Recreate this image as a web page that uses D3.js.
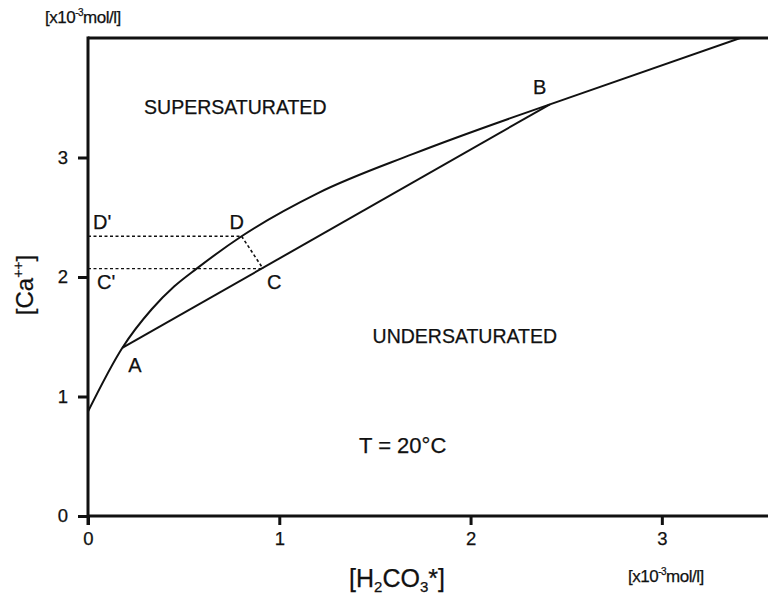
<!DOCTYPE html>
<html>
<head>
<meta charset="utf-8">
<script src="https://cdn.jsdelivr.net/npm/d3@7"></script>
<style>
  html, body { margin: 0; padding: 0; background: #fff; }
  svg { display: block; }
  text { font-family: "Liberation Sans", Arial, sans-serif; fill: #111; stroke: #111; stroke-width: 0.25; }
</style>
</head>
<body>
<svg id="chart" width="768" height="596"></svg>
<script>
// ---- data (x = [H2CO3*], y = [Ca++], both in 10^-3 mol/l) ----
const curveX = [0.0, 0.179, 0.333, 0.45, 0.568, 0.803, 1.2, 1.7, 2.415];
const curveY = [0.874, 1.406, 1.73, 1.92, 2.07, 2.341, 2.70, 3.03, 3.445];
const tailX = [2.415, 3.41];
const tailY = [3.445, 4.0];
const pointNames = ["A", "B", "C", "D"];
const pointX = [0.179, 2.415, 0.915, 0.803];
const pointY = [1.406, 3.445, 2.07, 2.341];
const xTicks = [0, 1, 2, 3];
const yTicks = [0, 1, 2, 3];

const svg = d3.select("#chart");
const mLeft = 88, mTop = 38, mRight = 768, mBottom = 516;
const x = d3.scaleLinear().domain([0, 3.555]).range([mLeft, mRight]);
const y = d3.scaleLinear().domain([0, 4]).range([mBottom, mTop]);

svg.append("defs").append("clipPath").attr("id", "clip")
  .append("rect").attr("x", mLeft).attr("y", mTop).attr("width", mRight - mLeft).attr("height", mBottom - mTop);

const P = {};
pointNames.forEach((n, i) => P[n] = [pointX[i], pointY[i]]);

const g = svg.append("g").attr("clip-path", "url(#clip)");
const line = d3.line().x(d => x(d[0])).y(d => y(d[1]));

// dashed guides
g.append("path").attr("d", line([[0, P.D[1]], P.D]))
  .attr("fill", "none").attr("stroke", "#111").attr("stroke-width", 1.4).attr("stroke-dasharray", "3,2.5");
g.append("path").attr("d", line([[0, P.C[1]], P.C]))
  .attr("fill", "none").attr("stroke", "#111").attr("stroke-width", 1.4).attr("stroke-dasharray", "3,2.5");
g.append("path").attr("d", line([P.D, P.C]))
  .attr("fill", "none").attr("stroke", "#111").attr("stroke-width", 1.6).attr("stroke-dasharray", "3,2.5");

// saturation curve
const curvePts = curveX.map((v, i) => [v, curveY[i]]);
g.append("path").attr("d", d3.line().x(d => x(d[0])).y(d => y(d[1])).curve(d3.curveMonotoneX)(curvePts))
  .attr("fill", "none").attr("stroke", "#111").attr("stroke-width", 2);
g.append("path").attr("d", line(tailX.map((v, i) => [v, tailY[i]])))
  .attr("fill", "none").attr("stroke", "#111").attr("stroke-width", 2);
// mixing line A-B
g.append("path").attr("d", line([P.A, P.B]))
  .attr("fill", "none").attr("stroke", "#111").attr("stroke-width", 2);

// axes
const xAxis = d3.axisBottom(x).tickValues(xTicks).tickFormat(d3.format("d")).tickSize(9).tickPadding(7);
const yAxis = d3.axisLeft(y).tickValues(yTicks).tickFormat(d3.format("d")).tickSize(10).tickPadding(10);
const gx = svg.append("g").attr("transform", `translate(0,${mBottom})`).call(xAxis);
const gy = svg.append("g").attr("transform", `translate(${mLeft},0)`).call(yAxis);
[gx, gy].forEach(a => {
  a.select(".domain").remove();
  a.selectAll(".tick line").attr("stroke", "#111").attr("stroke-width", 3);
  a.selectAll(".tick text").attr("font-size", 18.5).attr("fill", "#111")
    .attr("font-family", "'Liberation Sans', Arial, sans-serif");
});
// axis lines + top border
svg.append("line").attr("x1", mLeft).attr("x2", mRight).attr("y1", mBottom).attr("y2", mBottom)
  .attr("stroke", "#111").attr("stroke-width", 3);
svg.append("line").attr("x1", mLeft).attr("x2", mLeft).attr("y1", mTop - 1.5).attr("y2", mBottom + 9)
  .attr("stroke", "#111").attr("stroke-width", 3);
svg.append("line").attr("x1", mLeft).attr("x2", mRight).attr("y1", mTop).attr("y2", mTop)
  .attr("stroke", "#111").attr("stroke-width", 3);

// point labels
const lab = (t, px, py, size) => svg.append("text").attr("x", px).attr("y", py).attr("font-size", size || 20).text(t);
lab("A", x(P.A[0]) + 6, y(P.A[1]) + 24);
lab("B", x(P.B[0]) - 17, y(P.B[1]) - 10);
lab("C", x(P.C[0]) + 4, y(P.C[1]) + 20);
lab("D", x(P.D[0]) - 12, y(P.D[1]) - 7);
lab("D'", x(0) + 5, y(P.D[1]) - 7);
lab("C'", x(0) + 9, y(P.C[1]) + 20);

// region labels
svg.append("text").attr("x", x(0.77)).attr("y", y(3.36)).attr("text-anchor", "middle").attr("font-size", 19.5).text("SUPERSATURATED");
svg.append("text").attr("x", x(1.97)).attr("y", y(1.45)).attr("text-anchor", "middle").attr("font-size", 19.5).text("UNDERSATURATED");
svg.append("text").attr("x", x(1.645)).attr("y", y(0.53)).attr("text-anchor", "middle").attr("font-size", 22).text("T = 20°C");

// axis titles
const xt = svg.append("text").attr("x", 397).attr("y", 587).attr("text-anchor", "middle").attr("font-size", 25);
xt.append("tspan").text("[H");
xt.append("tspan").attr("font-size", 15).attr("dy", 5).text("2");
xt.append("tspan").attr("dy", -5).text("CO");
xt.append("tspan").attr("font-size", 15).attr("dy", 5).text("3");
xt.append("tspan").attr("dy", -5).text("*]");

const yt = svg.append("text").attr("transform", "translate(33,285) rotate(-90)").attr("text-anchor", "middle").attr("font-size", 24);
yt.append("tspan").text("[Ca");
yt.append("tspan").attr("font-size", 14).attr("dy", -10).text("++");
yt.append("tspan").attr("dy", 10).text("]");

// unit labels
function unit(px, py) {
  const t = svg.append("text").attr("x", px).attr("y", py).attr("font-size", 17).attr("letter-spacing", -0.5);
  t.append("tspan").text("[x10");
  t.append("tspan").attr("font-size", 10).attr("dy", -7).text("-3");
  t.append("tspan").attr("dy", 7).text("mol/l]");
}
unit(45, 23);
unit(628, 582);
</script>
</body>
</html>
